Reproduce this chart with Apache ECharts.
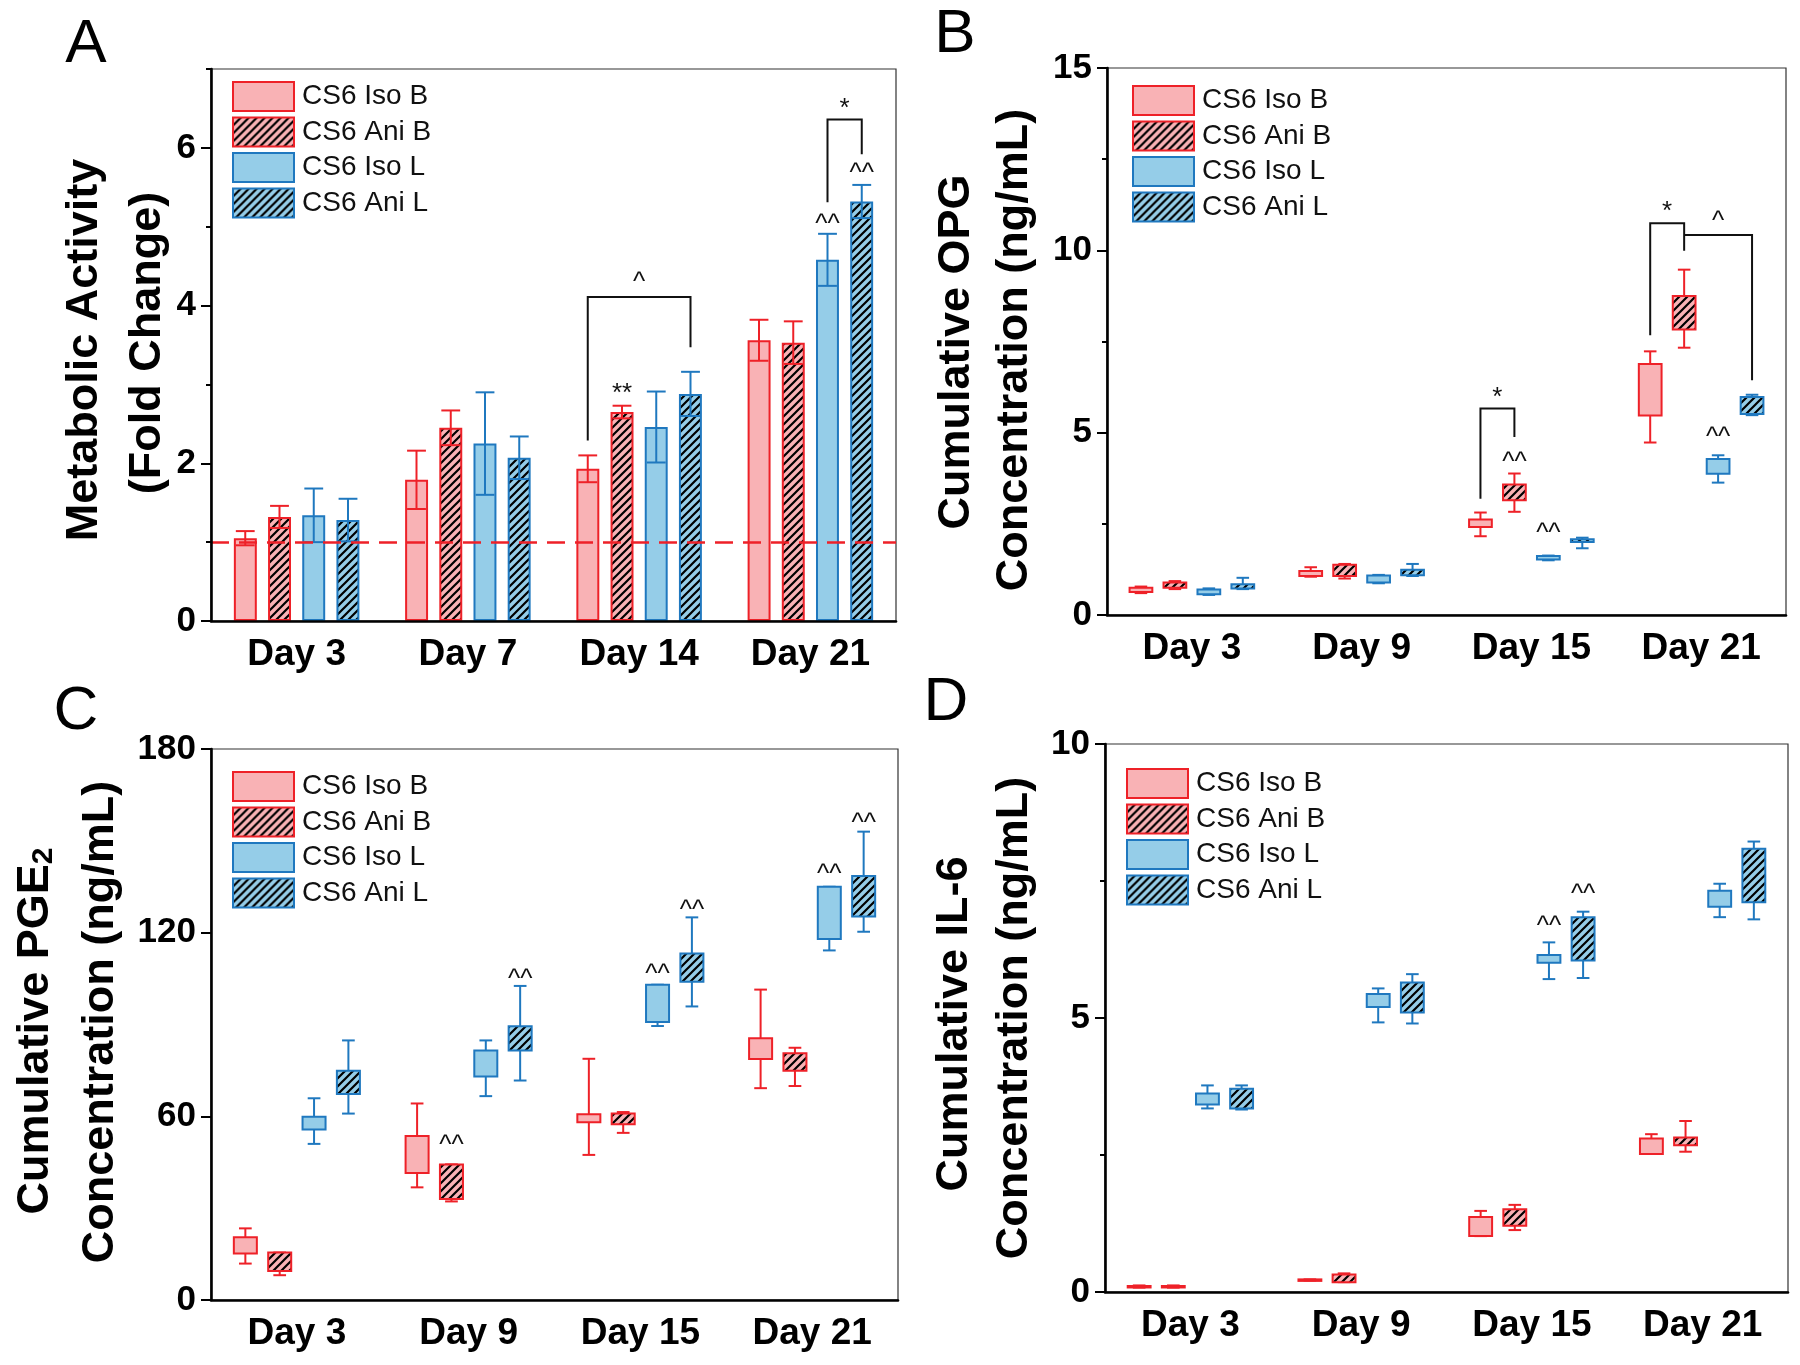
<!DOCTYPE html>
<html><head><meta charset="utf-8">
<script src="https://cdn.jsdelivr.net/npm/echarts@6/dist/echarts.min.js"></script>
<style>html,body{margin:0;padding:0;background:#fff}#c{width:1800px;height:1365px}</style>
</head><body><div id="c"></div>
<script>
// ---------------- data ----------------
const groupNames = ['CS6 Iso B', 'CS6 Ani B', 'CS6 Iso L', 'CS6 Ani L'];
const metCats = ['Day 3', 'Day 7', 'Day 14', 'Day 21'];
const relCats = ['Day 3', 'Day 9', 'Day 15', 'Day 21'];

// Panel A: metabolic activity (mean, error)
const metIsoB = [1.05, 1.79, 1.93, 3.56];
const metIsoBErr = [0.09, 0.37, 0.17, 0.26];
const metAniB = [1.32, 2.45, 2.65, 3.53];
const metAniBErr = [0.14, 0.22, 0.08, 0.27];
const metIsoL = [1.34, 2.25, 2.46, 4.58];
const metIsoLErr = [0.34, 0.65, 0.45, 0.33];
const metAniL = [1.28, 2.07, 2.88, 5.32];
const metAniLErr = [0.27, 0.27, 0.28, 0.21];
const metBaseline = 1.0;

// Panel B: OPG [min, q1, q3, max]
const opgIsoB = [[0.60, 0.63, 0.75, 0.78], [1.05, 1.07, 1.21, 1.31], [2.16, 2.41, 2.62, 2.81], [4.73, 5.47, 6.88, 7.23]];
const opgAniB = [[0.71, 0.75, 0.89, 0.93], [1.00, 1.07, 1.38, 1.40], [2.83, 3.15, 3.58, 3.88], [7.33, 7.83, 8.75, 9.47]];
const opgIsoL = [[0.55, 0.57, 0.70, 0.73], [0.87, 0.89, 1.08, 1.10], [1.50, 1.52, 1.62, 1.63], [3.63, 3.87, 4.28, 4.38]];
const opgAniL = [[0.71, 0.73, 0.84, 1.02], [1.07, 1.09, 1.24, 1.40], [1.83, 2.00, 2.08, 2.12], [5.48, 5.51, 5.98, 6.04]];

// Panel C: PGE2 [min, q1, q3, max]
const pgeIsoB = [[11.9, 15.2, 20.5, 23.4], [36.8, 41.5, 53.6, 64.2], [47.4, 58.1, 60.7, 78.8], [69.2, 78.7, 85.5, 101.4]];
const pgeAniB = [[8.1, 9.5, 15.5, 15.5], [32.2, 33.0, 44.3, 44.3], [54.6, 57.4, 60.9, 61.4], [69.9, 74.9, 80.6, 82.4]];
const pgeIsoL = [[51.0, 55.7, 59.9, 65.9], [66.6, 73.0, 81.5, 84.8], [89.5, 90.8, 103.0, 103.0], [114.2, 117.9, 135.0, 135.0]];
const pgeAniL = [[60.9, 67.3, 74.9, 84.8], [71.7, 81.5, 89.4, 102.6], [95.9, 104.0, 113.2, 125.0], [120.3, 125.3, 138.5, 153.0]];

// Panel D: IL-6 [min, q1, q3, max]
const ilIsoB = [[0.08, 0.09, 0.11, 0.12], [0.21, 0.21, 0.23, 0.23], [1.02, 1.02, 1.37, 1.48], [2.52, 2.52, 2.80, 2.88]];
const ilAniB = [[0.08, 0.09, 0.11, 0.12], [0.18, 0.18, 0.32, 0.34], [1.13, 1.21, 1.51, 1.59], [2.56, 2.68, 2.82, 3.12]];
const ilIsoL = [[3.35, 3.42, 3.62, 3.77], [4.92, 5.20, 5.44, 5.54], [5.71, 6.01, 6.15, 6.38], [6.84, 7.03, 7.32, 7.45]];
const ilAniL = [[3.33, 3.35, 3.71, 3.77], [4.90, 5.10, 5.65, 5.80], [5.73, 6.05, 6.84, 6.94], [6.80, 7.11, 8.09, 8.22]];

// axis ticks
const ticksA = [0, 2, 4, 6], minorA = [1, 3, 5, 7];
const ticksB = [0, 5, 10, 15], minorB = [2.5, 7.5, 12.5];
const ticksC = [0, 60, 120, 180];
const ticksD = [0, 5, 10], minorD = [2.5, 7.5];

// significance marks: [category, slot, y]
const annA = [[2, 1.5, 4.35], [2, 1, 2.94], [3, 2, 5.09], [3, 3, 5.73], [3, 2.5, 6.56]];
const annAText = ['^', '**', '^^', '^^', '*'];
const annB = [[2, 0.5, 6.10], [2, 1, 4.32], [2, 2, 2.36], [3, 0.5, 11.19], [3, 2, 10.92], [3, 2, 5.0]];
const annBText = ['*', '^^', '^^', '*', '^', '^^'];
const annC = [[1, 1, 52.1], [1, 3, 106.1], [2, 2, 107.8], [2, 3, 128.9], [3, 2, 140.5], [3, 3, 157.3]];
const annCText = ['^^', '^^', '^^', '^^', '^^', '^^'];
const annD = [[2, 2, 6.76], [2, 3, 7.34]];
const annDText = ['^^', '^^'];
// brackets: [category, slotLeft, slotRight, yTop, yLeftEnd, yRightEnd]
const brA = [[2, 0, 3, 4.11, 2.29, 3.47], [3, 2, 3, 6.36, 5.31, 5.92]];
const brB = [[2, 0, 1, 5.66, 3.19, 4.88], [3, 0, 1, 10.74, 7.67, 9.99], [3, 1, 3, 10.42, 10.42, 6.44]];

// ---------------- styles ----------------
const FONT = '"Liberation Sans", Arial, Helvetica, sans-serif';
const PINK = '#F9B2B5', BLUE = '#95CDE8', RED = '#EE2128', DBLUE = '#1F78BF';
function hatch(bg) {
  const s = 8, c = document.createElement('canvas');
  c.width = s; c.height = s;
  const g = c.getContext('2d');
  g.fillStyle = bg; g.fillRect(0, 0, s, s);
  g.strokeStyle = '#000'; g.lineWidth = 2.2; g.lineCap = 'square';
  g.beginPath();
  g.moveTo(-1, s + 1); g.lineTo(s + 1, -1);
  g.moveTo(-1, 1); g.lineTo(1, -1);
  g.moveTo(s - 1, s + 1); g.lineTo(s + 1, s - 1);
  g.stroke();
  return { image: c, repeat: 'repeat' };
}
const fills = [PINK, hatch(PINK), BLUE, hatch(BLUE)];
const strokes = [RED, RED, DBLUE, DBLUE];

const SP = 0.2, BW = 0.134, CAPB = 0.037, CAPE = 0.055;

function boxItem(slot) {
  return function (params, api) {
    const cat = api.value(0);
    const band = api.size([1, 0])[0];
    const x = api.coord([cat, 0])[0] + (slot - 1.5) * SP * band;
    const y = v => api.coord([cat, v])[1];
    const yMin = y(api.value(1)), yQ1 = y(api.value(2)), yQ3 = y(api.value(3)), yMax = y(api.value(4));
    const w = BW * band, c = CAPB * band;
    const st = strokes[slot];
    const ls = () => ({ stroke: st, lineWidth: 2 });
    return {
      type: 'group', children: [
        { type: 'line', shape: { x1: x, y1: yQ1, x2: x, y2: yMin }, style: ls() },
        { type: 'line', shape: { x1: x, y1: yQ3, x2: x, y2: yMax }, style: ls() },
        { type: 'line', shape: { x1: x - c, y1: yMin, x2: x + c, y2: yMin }, style: ls() },
        { type: 'line', shape: { x1: x - c, y1: yMax, x2: x + c, y2: yMax }, style: ls() },
        { type: 'rect', shape: { x: x - w / 2, y: yQ3, width: w, height: Math.max(yQ1 - yQ3, 1.5) },
          style: { fill: fills[slot], stroke: st, lineWidth: 2 } }
      ]
    };
  };
}
function errItem(slot) {
  return function (params, api) {
    const cat = api.value(0);
    const band = api.size([1, 0])[0];
    const x = api.coord([cat, 0])[0] + (slot - 1.5) * SP * band;
    const yl = api.coord([cat, api.value(1)])[1], yh = api.coord([cat, api.value(2)])[1];
    const c = CAPE * band, st = strokes[slot];
    return {
      type: 'group', children: [
        { type: 'line', shape: { x1: x, y1: yl, x2: x, y2: yh }, style: { stroke: st, lineWidth: 2 } },
        { type: 'line', shape: { x1: x - c, y1: yh, x2: x + c, y2: yh }, style: { stroke: st, lineWidth: 2 } },
        { type: 'line', shape: { x1: x - c, y1: yl, x2: x + c, y2: yl }, style: { stroke: st, lineWidth: 2 } }
      ]
    };
  };
}
function annItem(texts) {
  return function (params, api) {
    const cat = api.value(0), slot = api.value(1);
    const band = api.size([1, 0])[0];
    const p = api.coord([cat, api.value(2)]);
    return {
      type: 'text', x: p[0] + (slot - 1.5) * SP * band, y: p[1] + 5,
      style: { text: texts[params.dataIndex], fill: '#111', font: '26px ' + FONT, textAlign: 'center', textVerticalAlign: 'middle' }
    };
  };
}
function brItem(params, api) {
  const cat = api.value(0);
  const band = api.size([1, 0])[0];
  const cx = api.coord([cat, 0])[0];
  const xL = cx + (api.value(1) - 1.5) * SP * band, xR = cx + (api.value(2) - 1.5) * SP * band;
  const yT = api.coord([cat, api.value(3)])[1];
  const yL = api.coord([cat, api.value(4)])[1], yR = api.coord([cat, api.value(5)])[1];
  return { type: 'polyline', shape: { points: [[xL, yL], [xL, yT], [xR, yT], [xR, yR]] },
    style: { stroke: '#111', lineWidth: 2, fill: null } };
}

// ---------------- layout ----------------
const grids = [
  { left: 211, top: 69, width: 685, height: 552 },
  { left: 1107, top: 68, width: 679, height: 547 },
  { left: 211, top: 749, width: 687, height: 551 },
  { left: 1105, top: 744, width: 683, height: 548 }
].map(g => Object.assign(g, { show: true, borderColor: '#333', borderWidth: 1.2, containLabel: false }));

const xCats = [metCats, relCats, relCats, relCats];
const xAxes = xCats.map((cats, i) => ({
  gridIndex: i, type: 'category', data: cats, z: 10,
  axisLine: { show: true, lineStyle: { color: '#000', width: 2.6 } },
  axisTick: { show: false },
  axisLabel: { color: '#000', fontFamily: FONT, fontWeight: 'bold', fontSize: 37, margin: 15 },
  splitLine: { show: false }
}));

const yDefs = [
  { min: 0, max: 7, ticks: ticksA, minor: minorA },
  { min: 0, max: 15, ticks: ticksB, minor: minorB },
  { min: 0, max: 180, ticks: ticksC, minor: [] },
  { min: 0, max: 10, ticks: ticksD, minor: minorD }
];
const yAxes = [];
const mainY = [];
yDefs.forEach((d, i) => {
  mainY.push(yAxes.length);
  yAxes.push({
    gridIndex: i, type: 'value', min: d.min, max: d.max, position: 'left', z: 10,
    axisLine: { show: true, lineStyle: { color: '#000', width: 2.6 } },
    axisTick: { show: true, length: 10, customValues: d.ticks, lineStyle: { color: '#000', width: 2 } },
    axisLabel: { customValues: d.ticks, color: '#000', fontFamily: FONT, fontWeight: 'bold', fontSize: 35, margin: 15 },
    splitLine: { show: false }
  });
  if (d.minor.length) {
    yAxes.push({
      gridIndex: i, type: 'value', min: d.min, max: d.max, position: 'left', offset: 0, z: 10,
      axisLine: { show: false },
      axisTick: { show: true, length: 5, customValues: d.minor, lineStyle: { color: '#000', width: 2 } },
      axisLabel: { show: false },
      splitLine: { show: false }
    });
  }
});

const series = [];
// Panel A bars
const metMeans = [metIsoB, metAniB, metIsoL, metAniL];
const metErrs = [metIsoBErr, metAniBErr, metIsoLErr, metAniLErr];
metMeans.forEach((arr, s) => {
  series.push({
    type: 'bar', name: groupNames[s], xAxisIndex: 0, yAxisIndex: mainY[0],
    data: arr, barWidth: '13.4%', barGap: '49%',
    itemStyle: { color: fills[s], borderColor: strokes[s], borderWidth: 2 },
    emphasis: { disabled: true }
  });
});
metMeans.forEach((arr, s) => {
  const ser = {
    type: 'custom', xAxisIndex: 0, yAxisIndex: mainY[0], z: 4,
    renderItem: errItem(s),
    data: arr.map((v, i) => [i, v - metErrs[s][i], v + metErrs[s][i]])
  };
  if (s === 3) {
    ser.markLine = {
      silent: true, symbol: ['none', 'none'], label: { show: false },
      lineStyle: { color: RED, type: [18, 10], width: 2.5 },
      data: [{ yAxis: metBaseline }]
    };
  }
  series.push(ser);
});
// Box panels
const boxSets = [[opgIsoB, opgAniB, opgIsoL, opgAniL], [pgeIsoB, pgeAniB, pgeIsoL, pgeAniL], [ilIsoB, ilAniB, ilIsoL, ilAniL]];
boxSets.forEach((set, p) => {
  set.forEach((arr, s) => {
    series.push({
      type: 'custom', name: groupNames[s], xAxisIndex: p + 1, yAxisIndex: mainY[p + 1], z: 3,
      renderItem: boxItem(s),
      itemStyle: { color: fills[s], borderColor: strokes[s], borderWidth: 2 },
      data: arr.map((q, i) => [i, q[0], q[1], q[2], q[3]])
    });
  });
});
// annotations
const anns = [[annA, annAText], [annB, annBText], [annC, annCText], [annD, annDText]];
anns.forEach((a, p) => {
  series.push({ type: 'custom', xAxisIndex: p, yAxisIndex: mainY[p], z: 6, renderItem: annItem(a[1]), data: a[0] });
});
[[brA, 0], [brB, 1]].forEach(b => {
  series.push({ type: 'custom', xAxisIndex: b[1], yAxisIndex: mainY[b[1]], z: 6, renderItem: brItem, data: b[0] });
});

// legends
const legendPos = [[232, 81], [1132, 85], [232, 771], [1126, 768]];
const legends = legendPos.map(p => ({
  left: p[0], top: p[1], padding: 0, orient: 'vertical', itemWidth: 61, itemHeight: 29, itemGap: 4.5,
  selectedMode: false, icon: 'rect',
  textStyle: { fontFamily: FONT, fontSize: 28, color: '#111', lineHeight: 29, padding: [0, 0, 0, 3] },
  data: groupNames.map((n, s) => ({ name: n, icon: 'rect', itemStyle: { color: fills[s], borderColor: strokes[s], borderWidth: 2 } }))
}));

// text
const bold45 = 'bold 45px ' + FONT;
function vtext(x, y, t) {
  return { type: 'text', x: x, y: y, rotation: Math.PI / 2,
    style: { text: t, font: bold45, fill: '#000', textAlign: 'center', textVerticalAlign: 'middle' } };
}
function letter(x, y, t) {
  return { type: 'text', x: x, y: y, style: { text: t, font: '62px ' + FONT, fill: '#000', textAlign: 'center', textVerticalAlign: 'middle' } };
}
const graphic = [
  letter(86, 45, 'A'), letter(955, 35, 'B'), letter(76, 712, 'C'), letter(946, 703, 'D'),
  vtext(85, 350, 'Metabolic Activity'), vtext(148, 343, '(Fold Change)'),
  vtext(957, 352, 'Cumulative OPG'), vtext(1015, 350, 'Concentration (ng/mL)'),
  { type: 'text', x: 36, y: 1031, rotation: Math.PI / 2,
    style: { text: '{a|Cumulative PGE}{b|2}', fill: '#000', textAlign: 'center', textVerticalAlign: 'middle',
      rich: { a: { font: bold45, fill: '#000' }, b: { font: 'bold 30px ' + FONT, fill: '#000', verticalAlign: 'bottom' } } } },
  vtext(101, 1022, 'Concentration (ng/mL)'),
  vtext(955, 1024, 'Cumulative IL-6'), vtext(1015, 1018, 'Concentration (ng/mL)')
];

const chart = echarts.init(document.getElementById('c'), null, { renderer: 'canvas' });
chart.setOption({
  animation: false,
  backgroundColor: '#fff',
  textStyle: { fontFamily: FONT },
  grid: grids, xAxis: xAxes, yAxis: yAxes,
  legend: legends, series: series, graphic: graphic
});
</script></body></html>
